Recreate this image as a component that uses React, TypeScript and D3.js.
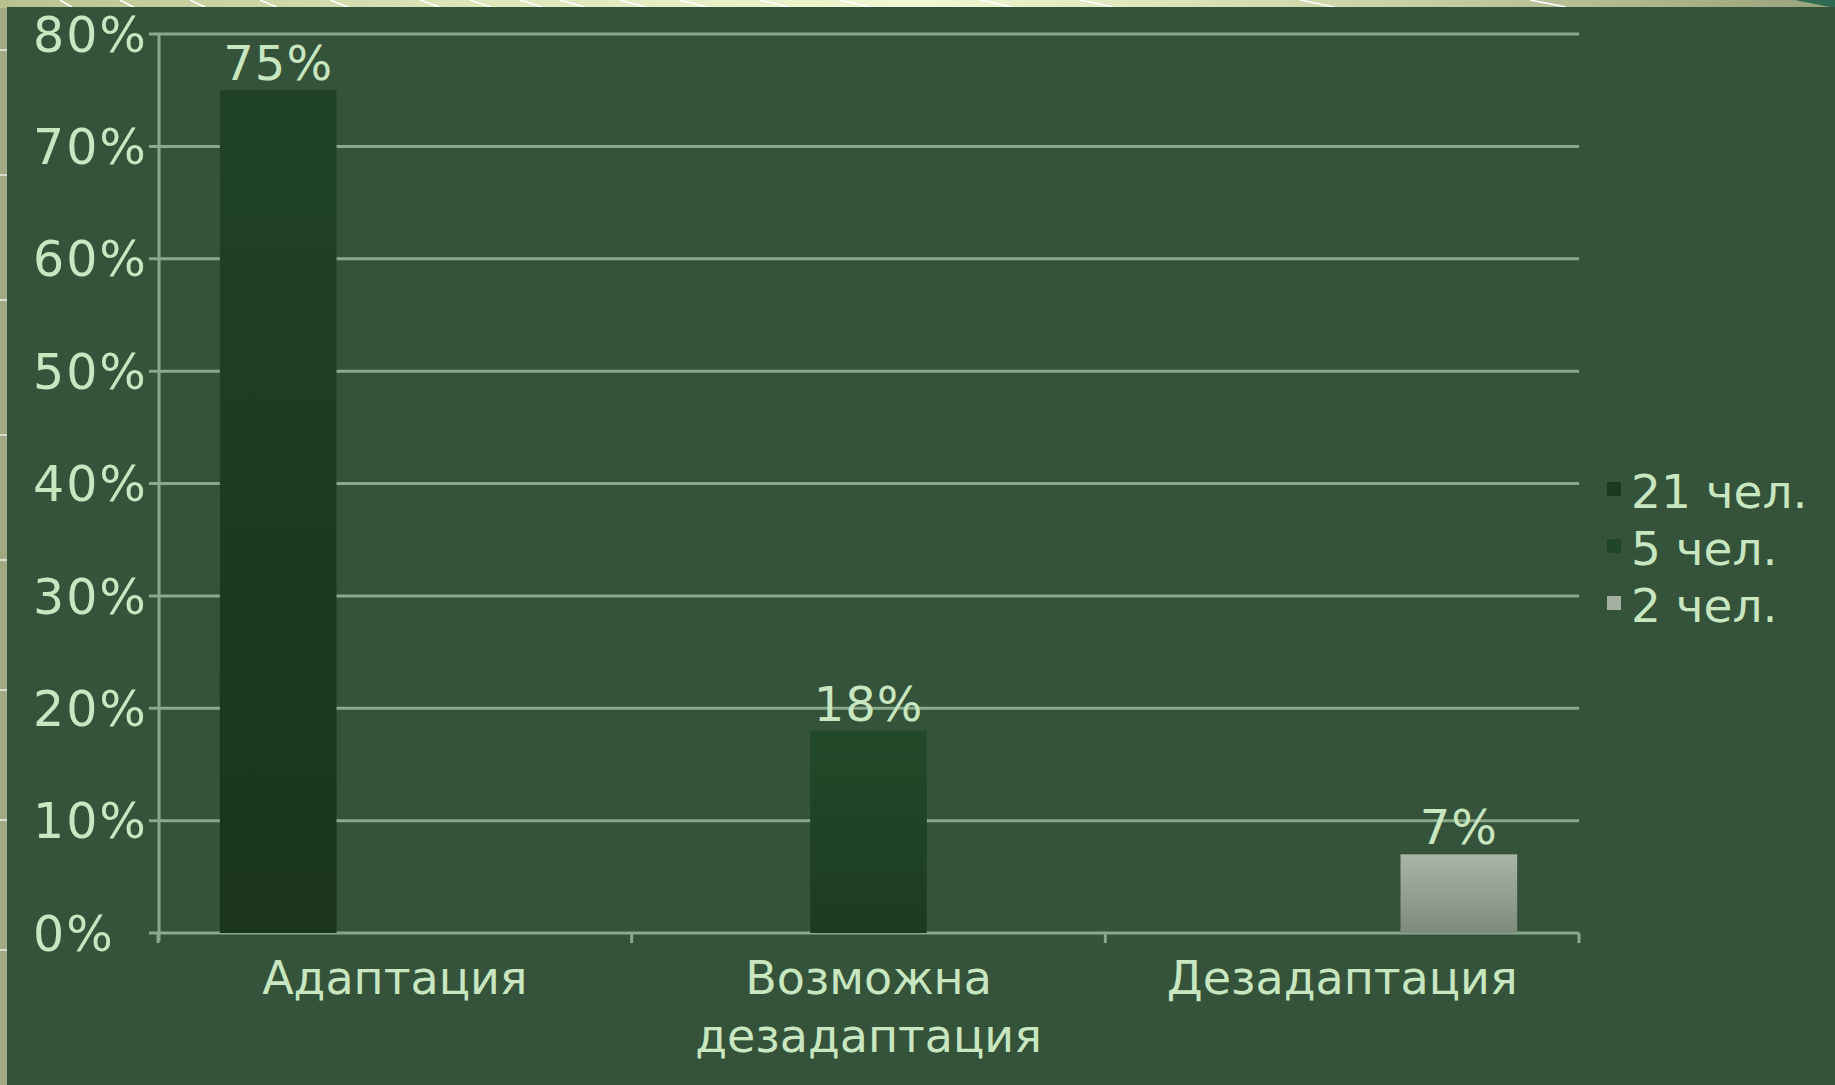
import React from "react";
import * as d3 from "d3";

const categories = ["Адаптация", "Возможна\nдезадаптация", "Дезадаптация"];
const seriesNames = ["21 чел.", "5 чел.", "2 чел."];
const series21 = [0.75, null, null];
const series5 = [null, 0.18, null];
const series2 = [null, null, 0.07];
const yTicks = [0, 0.1, 0.2, 0.3, 0.4, 0.5, 0.6, 0.7, 0.8];

const W = 1835;
const H = 1085;
const FONT = "'DejaVu Sans', Verdana, sans-serif";
const TEXT = "#c8e6c0";
const GRID = "#8aa88a";
const PANEL = "#34533a";

export default function App() {
  const seriesValues = [series21, series5, series2];
  const x0 = d3.scaleBand<string>().domain(categories).range([158, 1579]).padding(0);
  const x1 = d3
    .scaleBand<string>()
    .domain(seriesNames)
    .range([0, x0.bandwidth()])
    .paddingInner(0)
    .paddingOuter(0.53);
  const y = d3.scaleLinear().domain([0, 0.8]).range([933, 34]);
  const fmt = d3.format(".0%");
  const fills = ["url(#g1)", "url(#g2)", "url(#g3)"];
  const legendFills = ["#1b3a20", "#1f4626", "#a4b0a2"];

  const bars: React.ReactNode[] = [];
  seriesValues.forEach((vals, si) => {
    vals.forEach((v, ci) => {
      if (v == null) return;
      const bx = (x0(categories[ci]) as number) + (x1(seriesNames[si]) as number);
      const bw = x1.bandwidth();
      bars.push(
        <g key={`b${si}-${ci}`}>
          <rect x={bx} y={y(v)} width={bw} height={y(0) - y(v)} fill={fills[si]} />
          <text
            x={bx + bw / 2}
            y={y(v) - 10}
            textAnchor="middle"
            fontSize={48}
            letterSpacing={1}
            fill={TEXT}
            fontFamily={FONT}
          >
            {fmt(v)}
          </text>
        </g>
      );
    });
  });

  // decorative white lines in the top strip
  const topLines = [60, 120, 190, 260, 330, 420, 470, 520, 560, 620, 680, 760, 840, 980, 1080, 1300, 1530];

  return (
    <svg
      width={W}
      height={H}
      style={{ position: "absolute", left: 0, top: 0, display: "block" }}
      xmlns="http://www.w3.org/2000/svg"
    >
      <defs>
        <linearGradient id="top" x1="0" x2="1" y1="0" y2="0">
          <stop offset="0" stopColor="#b7c28f" />
          <stop offset="0.25" stopColor="#dbe5b8" />
          <stop offset="0.5" stopColor="#f1f8d2" />
          <stop offset="0.75" stopColor="#c9d3a6" />
          <stop offset="1" stopColor="#96a27a" />
        </linearGradient>
        <linearGradient id="g1" x1="0" x2="0" y1="0" y2="1">
          <stop offset="0" stopColor="#1f4224" />
          <stop offset="1" stopColor="#1a341e" />
        </linearGradient>
        <linearGradient id="g2" x1="0" x2="0" y1="0" y2="1">
          <stop offset="0" stopColor="#224a29" />
          <stop offset="1" stopColor="#1c3b20" />
        </linearGradient>
        <linearGradient id="g3" x1="0" x2="0" y1="0" y2="1">
          <stop offset="0" stopColor="#a9b6a7" />
          <stop offset="1" stopColor="#7d8a7c" />
        </linearGradient>
      </defs>

      <rect x={0} y={0} width={W} height={H} fill="#a0aa82" />
      <rect x={0} y={0} width={W} height={8} fill="url(#top)" />
      {topLines.map((lx, i) => (
        <line key={`tl${i}`} x1={lx} y1={0} x2={lx + 12 + i * 1.5} y2={7} stroke="#ffffff" strokeWidth={1.5} />
      ))}
      {[50, 175, 300, 435, 560, 690, 820, 950].map((ly, i) => (
        <line key={`ll${i}`} x1={0} y1={ly} x2={7} y2={ly} stroke="#ffffff" strokeWidth={1.2} />
      ))}
      <path d={`M${W - 40},0 L${W},0 L${W},8 Z`} fill="#2f6b52" />
      <rect x={7} y={7} width={W - 7} height={H - 7} fill={PANEL} />

      {/* gridlines */}
      {yTicks.map((t) => (
        <line key={`gl${t}`} x1={149} x2={1579} y1={y(t)} y2={y(t)} stroke={GRID} strokeWidth={3} />
      ))}
      {/* y axis */}
      <line x1={159} x2={159} y1={y(0.8)} y2={y(0) + 8} stroke={GRID} strokeWidth={3} />
      {/* x axis ticks */}
      {[...categories.map((c) => x0(c) as number), 1579].map((tx, i) => (
        <line key={`xt${i}`} x1={tx} x2={tx} y1={y(0)} y2={y(0) + 10} stroke={GRID} strokeWidth={3} />
      ))}

      {/* y tick labels */}
      {yTicks.map((t) => (
        <text
          key={`yl${t}`}
          x={33}
          y={y(t)}
          dy="0.36em"
          fontSize={49}
          letterSpacing={2}
          fill={TEXT}
          fontFamily={FONT}
        >
          {fmt(t)}
        </text>
      ))}

      {bars}

      {/* category labels */}
      {categories.map((c) => {
        const lines = c.split("\n");
        const cx = (x0(c) as number) + x0.bandwidth() / 2;
        return (
          <text key={c} x={cx} y={994} textAnchor="middle" fontSize={46} fill={TEXT} fontFamily={FONT}>
            {lines.map((ln, i) => (
              <tspan key={i} x={cx} dy={i === 0 ? 0 : 58}>
                {ln}
              </tspan>
            ))}
          </text>
        );
      })}

      {/* legend */}
      {seriesNames.map((s, i) => (
        <g key={s} transform={`translate(1607, ${508 + i * 57})`}>
          <rect x={0} y={-26} width={14} height={14} fill={legendFills[i]} />
          <text x={24} y={0} fontSize={47} fill={TEXT} fontFamily={FONT}>
            {s}
          </text>
        </g>
      ))}
    </svg>
  );
}
